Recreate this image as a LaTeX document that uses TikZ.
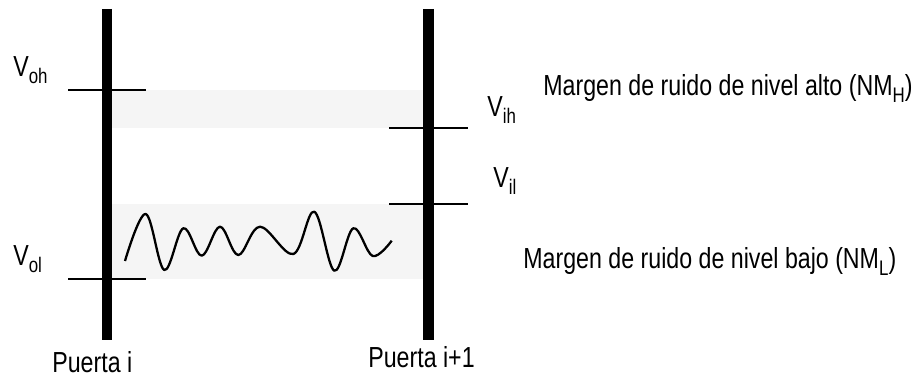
\documentclass[tikz,border=0pt]{standalone}
\usepackage{fontspec}
\setmainfont[FakeStretch=0.8]{Liberation Sans}
\usepackage{tikz}
\usetikzlibrary{calc}
\newcommand{\subtxt}[1]{\raisebox{-3.5pt}{\fontsize{12}{12}\selectfont #1}}
\definecolor{bandgray}{RGB}{245,245,245}
\tikzset{
  % Barras de las puertas
  gatebar/.style   = {line width=5.8pt, black},
  % Niveles de tension
  levelline/.style = {line width=1.4pt, black},
  % Franjas de margen de ruido
  band/.style      = {fill=bandgray, draw=none},
  % Ruido
  noise/.style     = {line width=1.3pt, black, line join=round},
  % Etiquetas
  lab/.style       = {inner sep=0pt, anchor=base west, font=\fontsize{16.5}{19}\selectfont},
}
\begin{document}
\begin{tikzpicture}[x=0.02cm, y=-0.02cm]
  \useasboundingbox (0,0) rectangle (917,378);
  % Franjas
  \fill[band] (112,90) rectangle (423,128);
  \fill[band] (112,204) rectangle (423,279);
  % Puertas
  \draw[gatebar] (107,9) -- (107,340);
  \draw[gatebar] (428.5,9) -- (428.5,340);
  % Niveles de salida
  \draw[levelline] (68,90) -- (146,90);
  \draw[levelline] (68,279) -- (146,279);
  % Niveles de entrada
  \draw[levelline] (389,128) -- (468,128);
  \draw[levelline] (389,204) -- (468,204);
  % Ruido
  \draw[noise] plot[smooth, tension=0.6] coordinates {
    (125,261) (145.7,214) (164.3,270) (183.3,228.3) (201.7,255.7)
    (220,226.7) (238.3,255) (260,226.7) (293.3,254) (314.3,211.7)
    (334.3,270.7) (353.3,228.3) (372.7,256) (391.7,240.7)};
  % Etiquetas
  \node[lab] (voh) at (13,77) {V\subtxt{oh}};
  \node[lab] (vol) at (13,266) {V\subtxt{ol}};
  \node[lab] (vih) at (487,117) {V\subtxt{ih}};
  \node[lab] (vil) at (493,188) {V\subtxt{il}};
  \node[lab] (nmh) at (543,96) {Margen de ruido de nivel alto (NM\subtxt{H})};
  \node[lab] (nml) at (523,269) {Margen de ruido de nivel bajo (NM\subtxt{L})};
  \node[lab] (pa) at (52,373) {Puerta i};
  \node[lab] (pb) at (368,368) {Puerta i+1};
\end{tikzpicture}
\end{document}
